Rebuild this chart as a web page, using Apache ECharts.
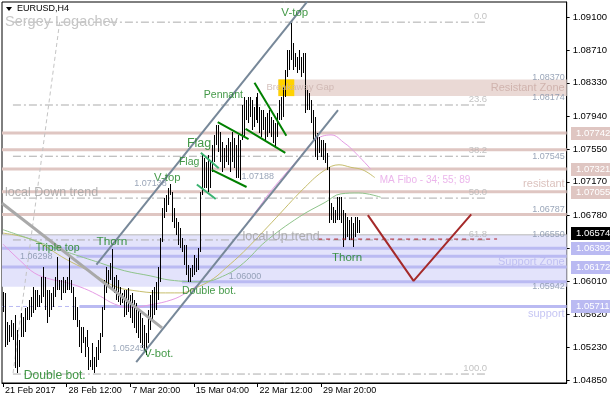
<!DOCTYPE html>
<html>
<head>
<meta charset="utf-8">
<script src="https://cdn.jsdelivr.net/npm/echarts@6/dist/echarts.min.js"></script>
<style>
html,body{margin:0;padding:0;background:#fff}
#c{width:610px;height:400px}
</style>
</head>
<body>
<div id="c"></div>
<script>
// EURUSD H4 bars: high / low of each 4-hour bar
const highs = [
 1.0588,1.0587,1.0553,1.0549,1.0555,1.0552,1.0561,1.0544,1.0532,1.0563,
 1.0559,1.0569,1.0570,1.0579,1.0582,1.0594,1.0590,1.0590,1.0585,1.0606,
 1.0617,1.0606,1.0590,1.0590,1.0587,1.0594,1.0606,1.0629,1.0602,1.0602,
 1.0606,1.0602,1.0606,1.0629,1.0602,1.0594,1.0582,1.0570,1.0555,1.0547,
 1.0547,1.0535,1.0544,1.0524,1.0508,1.0528,1.0512,1.0524,1.0532,1.0540,
 1.0570,1.0602,1.0617,1.0614,1.0622,1.0638,1.0606,1.0608,1.0602,1.0594,
 1.0587,1.0590,1.0590,1.0593,1.0585,1.0587,1.0579,1.0575,1.0569,1.0563,
 1.0558,1.0549,1.0540,1.0567,1.0585,1.0590,1.0594,1.0600,1.0617,1.0651,
 1.0686,1.0698,1.0702,1.0710,1.0714,1.0705,1.0686,1.0675,1.0670,1.0663,
 1.0651,1.0643,1.0643,1.0620,1.0616,1.0620,1.0631,1.0628,1.0640,1.0705,
 1.0748,1.0745,1.0740,1.0748,1.0740,1.0760,1.0772,1.0784,1.0784,1.0775,
 1.0764,1.0757,1.0760,1.0768,1.0764,1.0775,1.0768,1.0760,1.0772,1.0766,
 1.0807,1.0816,1.0813,1.0816,1.0816,1.0813,1.0805,1.0816,1.0821,1.0805,
 1.0801,1.0801,1.0793,1.0798,1.0801,1.0793,1.0789,1.0786,1.0798,1.0813,
 1.0816,1.0828,1.0848,1.0871,1.0871,1.0903,1.0880,1.0868,1.0863,1.0871,
 1.0863,1.0868,1.0868,1.0825,1.0821,1.0813,1.0801,1.0793,1.0774,1.0770,
 1.0766,1.0766,1.0762,1.0751,1.0734,1.0692,1.0688,1.0684,1.0699,1.0699,
 1.0699,1.0684,1.0681,1.0676,1.0672,1.0676,1.0669,1.0676,1.0676,1.0672
];
const lows = [
 1.0565,1.0524,1.0526,1.0530,1.0535,1.0532,1.0499,1.0493,1.0500,1.0535,
 1.0535,1.0541,1.0555,1.0555,1.0559,1.0563,1.0567,1.0570,1.0570,1.0575,
 1.0582,1.0567,1.0552,1.0559,1.0567,1.0570,1.0582,1.0590,1.0590,1.0579,
 1.0587,1.0587,1.0590,1.0590,1.0587,1.0555,1.0555,1.0547,1.0524,1.0517,
 1.0528,1.0512,1.0524,1.0497,1.0500,1.0497,1.0493,1.0500,1.0508,1.0517,
 1.0535,1.0567,1.0587,1.0594,1.0602,1.0590,1.0587,1.0579,1.0576,1.0573,
 1.0575,1.0559,1.0561,1.0565,1.0558,1.0552,1.0546,1.0540,1.0534,1.0528,
 1.0522,1.0518,1.0514,1.0528,1.0544,1.0553,1.0561,1.0567,1.0579,1.0600,
 1.0647,1.0675,1.0682,1.0690,1.0702,1.0670,1.0663,1.0655,1.0643,1.0640,
 1.0635,1.0620,1.0608,1.0600,1.0600,1.0606,1.0608,1.0611,1.0614,1.0635,
 1.0702,1.0710,1.0710,1.0705,1.0710,1.0729,1.0740,1.0760,1.0752,1.0740,
 1.0729,1.0733,1.0740,1.0737,1.0729,1.0740,1.0733,1.0722,1.0722,1.0719,
 1.0766,1.0770,1.0789,1.0786,1.0793,1.0778,1.0781,1.0789,1.0786,1.0774,
 1.0770,1.0778,1.0766,1.0770,1.0774,1.0770,1.0762,1.0758,1.0770,1.0789,
 1.0789,1.0793,1.0816,1.0840,1.0848,1.0860,1.0848,1.0852,1.0844,1.0848,
 1.0840,1.0844,1.0798,1.0801,1.0801,1.0786,1.0766,1.0746,1.0743,1.0751,
 1.0746,1.0743,1.0739,1.0731,1.0669,1.0672,1.0669,1.0669,1.0672,1.0672,
 1.0669,1.0641,1.0649,1.0652,1.0649,1.0649,1.0641,1.0652,1.0657,1.0657
];
const lastPrice = 1.06574;

// time axis: bar index of each date label
const xTickIdx = [0, 32, 64, 96, 128, 160];
const xTickLabels = ['21 Feb 2017', '28 Feb 12:00', '7 Mar 20:00', '15 Mar 04:00', '22 Mar 12:00', '29 Mar 20:00'];
const yTickValues = [1.0485, 1.0523, 1.0562, 1.0601, 1.0639, 1.0678, 1.0717, 1.0755, 1.0794, 1.0833, 1.0871, 1.0910];

// "MA Fibo" moving averages (34, 55, 89), [bar index, price]
const ma34 = [[0,1.0644],[9,1.0624],[16,1.0610],[24,1.0603],[32,1.0599],[41,1.0592],[49,1.0583],[56,1.0574],[64,1.0570],[74,1.0573],[85,1.0579],[92,1.0587],[99,1.0599],[109,1.0628],[119,1.0657],[129,1.0688],[135,1.0707],[149,1.0745],[157,1.0766],[165,1.0772],[172,1.0762],[176,1.0754],[185,1.0732]];
const ma55 = [[0,1.0657],[15,1.0649],[32,1.0626],[42,1.0614],[49,1.0604],[57,1.0594],[65,1.0590],[79,1.0587],[89,1.0587],[99,1.0595],[106,1.0604],[112,1.0616],[121,1.0635],[135,1.0669],[152,1.0711],[162,1.0731],[169,1.0737],[175,1.0734],[181,1.0731],[187,1.0722]];
const ma89 = [[0,1.0661],[15,1.0649],[32,1.0635],[49,1.0622],[61,1.0613],[74,1.0607],[84,1.0602],[100,1.0600],[112,1.0608],[121,1.0622],[132,1.0647],[149,1.0676],[162,1.0693],[170,1.0703],[179,1.0704],[190,1.0699]];

// horizontal levels
const resistLevels = [1.07742, 1.07545, 1.07321, 1.07055, 1.06787];
const supportBandTop = 1.06550, supportBandBottom = 1.05942;
const supportLevels = [1.06392, 1.06172];
const tripleTopLevel = 1.06298, doubleBotLevel = 1.06000;
const supportLow = 1.05711;
const gapTop = 1.08370, gapBottom = 1.08174;

// Fibonacci retracement (ratio label, price)
const fibLevels = [['0.0',1.0904],['23.6',1.0807],['38.2',1.0747],['50.0',1.0698],['61.8',1.0649],['100.0',1.0492]];
const fibSpan = [5, 243.5];
const fibAnchor = [[28.5,1.0904],[5,1.0492]];

// drawn trend lines [bar index, price]
const channelUpper = [[47,1.0620],[153,1.0928]];
const channelLower = [[67,1.0506],[168.5,1.0801]];
const downTrend = [[-0.5,1.0692],[80,1.0546]];
const flagUpper = [[108,1.0787],[123.5,1.0767]];
const flagLower = [[105,1.0731],[122.5,1.0711]];
const pennantUpper = [[126.5,1.0833],[142.5,1.0771]];
const pennantLower = [[122,1.0779],[142,1.0751]];
const smallFlagUpper = [[99.5,1.0751],[108.5,1.0733]];
const smallFlagLower = [[97.5,1.0714],[107,1.0697]];
const projection = [[183.5,1.0678],[206.5,1.0601],[235.5,1.0679]];
const thornLine = [[158.5,1.0650],[248.5,1.0650]];

const GREEN = '#15801a', PRICE = '#8190a8';
const PINK = '#dfc6c2', LAV = '#babaf2';
const FONT = 'Liberation Sans, Arial, sans-serif';
const X0 = -0.5, X1 = 283.5;

// zones: [from bar, to bar, top price, bottom price, fill]
const zones = [
  [X0, X1, supportBandTop, supportBandBottom, '#e3e3fb'],
  [138.5, X1, gapTop, gapBottom, '#ead9d5'],
  [138.5, 146.5, gapTop, gapBottom, '#ffd200']
];

// [bar index, price, text, colour, size, anchor side]
const notes = [
  [140, 1.0915, 'V-top', GREEN, 11.5, 'l'],
  [101, 1.0819, 'Pennant', GREEN, 10.5, 'l'],
  [92.5, 1.0762, 'Flag', GREEN, 12.5, 'l'],
  [88.5, 1.0740, 'Flag', GREEN, 10.5, 'l'],
  [76, 1.0722, 'V-top', GREEN, 11.3, 'l'],
  [47, 1.0647, 'Thorn', GREEN, 11.8, 'l'],
  [16.5, 1.0640, 'Triple top', GREEN, 10.6, 'l'],
  [90, 1.0589, 'Double bot.', GREEN, 10.6, 'l'],
  [71, 1.0515, 'V-bot.', GREEN, 11.2, 'l'],
  [10.5, 1.0490, 'Double bot.', GREEN, 12.1, 'l'],
  [165.5, 1.0628, 'Thorn', GREEN, 11.5, 'l'],
  [8.5, 1.0630, '1.06298', PRICE, 9, 'l'],
  [66, 1.0715, '1.07138', PRICE, 9, 'l'],
  [120, 1.0723, '1.07188', PRICE, 9, 'l'],
  [113.5, 1.0606, '1.06000', PRICE, 9, 'l'],
  [55, 1.0522, '1.05245', PRICE, 9, 'l'],
  [282.5, 1.0839, '1.08370', PRICE, 9, 'r'],
  [282.5, 1.0816, '1.08174', PRICE, 9, 'r'],
  [282.5, 1.0747, '1.07545', PRICE, 9, 'r'],
  [282.5, 1.0685, '1.06787', PRICE, 9, 'r'],
  [282.5, 1.0655, '1.06550', PRICE, 9, 'r'],
  [282.5, 1.0594, '1.05942', PRICE, 9, 'r'],
  [282.5, 1.0827, 'Resistant Zone', '#c9aaa4', 11, 'r'],
  [132.5, 1.0828, 'Breakaway Gap', '#cbb2ac', 9.5, 'l'],
  [282.5, 1.0715, 'resistant', '#d2b2ac', 11, 'r'],
  [189.5, 1.0719, 'MA Fibo - 34; 55; 89', '#e6a2e6', 10, 'l'],
  [282.5, 1.0623, 'Support Zone', '#b6b6f0', 11, 'r'],
  [282.5, 1.0562, 'support', '#b6b6f0', 11, 'r'],
  [1, 1.0704, 'local Down trend', '#a0a0a0', 12.5, 'l'],
  [120.5, 1.0653, 'local Up trend', '#a0a0a0', 12.5, 'l']
];

const bars = highs.map((h, i) => [i, lows[i], h]);

function seg(data, color, width, type, z) {
  return {
    type: 'line', data: data, symbol: 'none', silent: true, z: z || 6,
    lineStyle: { color: color, width: width, type: type || 'solid' },
    animation: false
  };
}
function hseg(v, from, to, color, width, type, z) {
  return seg([[from, v], [to, v]], color, width, type, z);
}

const fibDash = [8, 3, 2, 3];
const chart = echarts.init(document.getElementById('c'), null, { renderer: 'canvas' });

const series = [];

// shaded zones
series.push({
  type: 'custom', z: 1, silent: true, data: zones.map(z => z.slice(0, 4)),
  encode: { x: [0, 1], y: [2, 3] },
  renderItem: function (params, api) {
    const a = api.coord([api.value(0), api.value(2)]);
    const b = api.coord([api.value(1), api.value(3)]);
    return { type: 'rect', shape: { x: a[0], y: a[1], width: b[0] - a[0], height: b[1] - a[1] },
      style: { fill: zones[params.dataIndex][4] } };
  }
});

// horizontal levels
resistLevels.forEach(v => series.push(hseg(v, X0, X1, PINK, 3, 'solid', 2)));
supportLevels.forEach(v => series.push(hseg(v, X0, X1, LAV, 3, 'solid', 2)));
series.push(hseg(tripleTopLevel, 37, X1, LAV, 3, 'solid', 2));
series.push(hseg(doubleBotLevel, 90, X1, LAV, 3, 'solid', 2));
series.push(hseg(supportBandTop, X0, X1, '#b8b8b8', 1, 'solid', 2));
series.push(hseg(supportLow, 38.5, X1, LAV, 3, 'solid', 2));
series.push(hseg(supportLow, X0, 38.5, LAV, 1, [4, 3], 2));

// Fibonacci retracement
fibLevels.forEach(f => series.push(hseg(f[1], fibSpan[0], fibSpan[1], '#ababab', 1, fibDash, 3)));
series.push(seg(fibAnchor, '#c4c4c4', 1, [4, 3], 3));

// moving averages
series.push(Object.assign(seg(ma34, '#e59be5', 1, 'solid', 4), { smooth: 0.4 }));
series.push(Object.assign(seg(ma55, '#c6bd6c', 1, 'solid', 4), { smooth: 0.4 }));
series.push(Object.assign(seg(ma89, '#8fc48b', 1, 'solid', 4), { smooth: 0.4 }));

// price bars
series.push({
  type: 'custom', z: 5, silent: true,
  data: bars,
  encode: { x: 0, y: [1, 2] },
  renderItem: function (params, api) {
    const hi = api.coord([api.value(0), api.value(2)]);
    const lo = api.coord([api.value(0), api.value(1)]);
    const y0 = Math.round(hi[1]);
    return {
      type: 'rect',
      shape: { x: Math.round(hi[0]), y: y0, width: 1, height: Math.max(1, Math.round(lo[1]) - y0) },
      style: { fill: '#000' }
    };
  }
});

// trend lines and patterns
series.push(seg(downTrend, '#a9a9a9', 3));
series.push(seg(channelUpper, '#778899', 2));
series.push(seg(channelLower, '#778899', 2));
series.push(seg(flagUpper, '#008000', 2));
series.push(seg(flagLower, '#008000', 2));
series.push(seg(pennantUpper, '#008000', 2));
series.push(seg(pennantLower, '#008000', 2));
series.push(seg(smallFlagUpper, '#3cb371', 2));
series.push(seg(smallFlagLower, '#3cb371', 2));
series.push(seg(thornLine, '#b0202a', 1, [4, 4]));
series.push(seg(projection, '#a52a2a', 2));

// text notes
series.push({
  type: 'scatter', z: 8, silent: true, clip: false, symbolSize: 0,
  data: notes.map(n => ({
    value: [n[0], n[1]],
    label: {
      show: true, formatter: n[2], color: n[3], fontSize: n[4], fontFamily: FONT,
      position: n[5] === 'l' ? 'right' : 'left', distance: 0
    }
  })).concat(fibLevels.map(f => ({
    value: [fibSpan[1], f[1]],
    label: { show: true, formatter: f[0], color: '#b4b4b4', fontSize: 9.5, fontFamily: FONT,
      position: 'left', distance: 0, verticalAlign: 'bottom', offset: [0, -1] }
  })))
});

const option = {
  animation: false,
  backgroundColor: '#fff',
  textStyle: { fontFamily: FONT },
  grid: { left: 2, right: 40, top: 2, bottom: 17, show: true, borderColor: '#000', borderWidth: 1 },
  xAxis: {
    type: 'value', min: X0, max: X1,
    axisLine: { show: true, onZero: false, lineStyle: { color: '#000' } },
    axisTick: { show: true, customValues: xTickIdx, length: 4, lineStyle: { color: '#000' } },
    axisLabel: {
      customValues: xTickIdx, color: '#000', fontSize: 9, fontFamily: FONT, align: 'left', margin: 3,
      padding: [0, 0, 0, 2],
      formatter: v => xTickLabels[xTickIdx.indexOf(Math.round(v))] || ''
    },
    splitLine: { show: false }
  },
  yAxis: {
    type: 'value', position: 'right', min: 1.04815, max: 1.09276, scale: true,
    axisLine: { show: true, onZero: false, lineStyle: { color: '#000' } },
    axisTick: { show: true, customValues: yTickValues, length: 3, lineStyle: { color: '#000' } },
    axisLabel: { customValues: yTickValues, color: '#000', fontSize: 9.5, fontFamily: FONT, margin: 6,
      formatter: v => v.toFixed(5) },
    splitLine: { show: false }
  },
  series: series
};
chart.setOption(option);

// price badges on the right scale
const badges = [
  [1.07742, PINK], [1.07321, PINK], [1.07055, PINK],
  [lastPrice, '#000'],
  [1.06392, LAV], [1.06172, LAV], [supportLow, LAV]
];
const gfx = [];
badges.forEach(b => {
  const y = chart.convertToPixel({ yAxisIndex: 0 }, b[0]);
  gfx.push({ type: 'rect', z: 100, shape: { x: 571, y: Math.round(y) - 6, width: 39, height: 13 }, style: { fill: b[1] } });
  gfx.push({ type: 'text', z: 101, x: 576, y: Math.round(y) + 0.5,
    style: { text: b[0].toFixed(5), fill: '#fff', font: '9.5px ' + FONT, textVerticalAlign: 'middle' } });
});
// symbol caption and author
gfx.push({ type: 'polygon', z: 100, shape: { points: [[6, 7], [12, 7], [9, 11]] }, style: { fill: '#000' } });
gfx.push({ type: 'text', z: 100, x: 17, y: 9, style: { text: 'EURUSD,H4', fill: '#000', font: '9px ' + FONT, textVerticalAlign: 'middle' } });
gfx.push({ type: 'text', z: 100, x: 5, y: 22, style: { text: 'Sergey Logachev', fill: '#c6c6c6', font: '14.5px ' + FONT, textVerticalAlign: 'middle' } });
chart.setOption({ graphic: gfx });
</script>
</body>
</html>
